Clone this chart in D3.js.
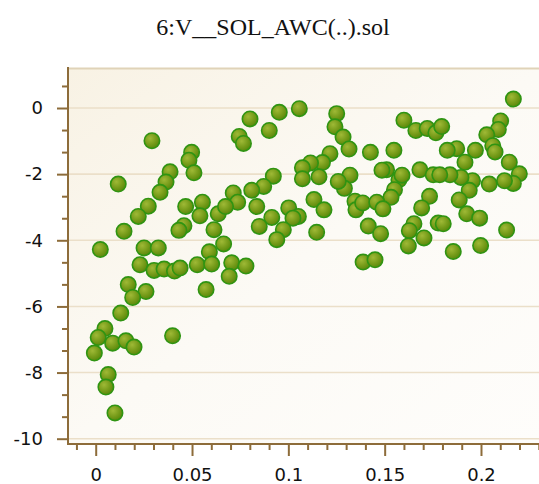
<!DOCTYPE html>
<html><head><meta charset="utf-8">
<script src="https://cdn.jsdelivr.net/npm/d3@7"></script>
<style>body{margin:0;background:#fff}svg{display:block}</style>
</head><body>
<script>
const chartTitle = "6:V__SOL_AWC(..).sol";
const xValues = [0.0292,0.0117,0.0386,0.0365,0.0334,0.0273,0.0221,0.0147,0.0024,0.0251,0.0325,0.0498,0.0484,0.0510,0.0467,0.0554,0.0541,0.0458,0.0432,0.0614,0.0590,0.0230,0.0303,0.0355,0.0409,0.0438,0.0527,0.0169,0.0261,0.0192,0.0130,0.0048,0.0013,0.0088,0.0157,0.0199,-0.0007,0.0065,0.0053,0.0100,0.0399,
0.0801,0.0953,0.1057,0.0745,0.0767,0.0901,0.1251,0.1242,0.1284,0.1315,0.1216,0.1177,0.1115,0.1073,0.1159,0.1073,0.0922,0.0872,0.0810,0.0714,0.0737,0.0636,0.0674,0.0836,0.0914,0.1002,0.1052,0.1024,0.0974,0.0940,0.0849,0.0664,0.0602,0.0706,0.0780,0.0693,0.0573,0.1147,0.1133,0.1185,0.1320,0.1291,0.1259,0.1346,0.1351,0.1388,0.1450,0.1426,0.1548,0.1600,0.1662,0.1721,0.1766,0.1796,0.1510,0.1486,0.1574,0.1590,0.1551,0.1533,0.1683,0.1752,0.1733,0.1692,0.1778,0.1652,0.1628,0.1704,0.1623,0.1386,0.1459,0.1491,0.1415,0.1479,
0.2168,0.2102,0.2090,0.2030,0.2061,0.2073,0.2147,0.2199,0.2168,0.2122,0.2133,0.1971,0.1917,0.1874,0.1825,0.2043,0.1956,0.1939,0.1896,0.1839,0.1786,0.1887,0.1926,0.1993,0.1804,0.1856,0.1998];
const yValues = [-0.99,-2.30,-1.93,-2.24,-2.55,-2.97,-3.28,-3.73,-4.28,-4.23,-4.23,-1.34,-1.58,-1.96,-2.98,-2.85,-3.26,-3.56,-3.70,-3.68,-4.35,-4.74,-4.91,-4.87,-4.93,-4.84,-4.74,-5.34,-5.55,-5.73,-6.20,-6.67,-6.94,-7.11,-7.04,-7.23,-7.41,-8.06,-8.44,-9.22,-6.89,
-0.33,-0.13,-0.02,-0.86,-1.07,-0.68,-0.17,-0.57,-0.88,-1.24,-1.38,-1.65,-1.66,-1.81,-2.08,-2.14,-2.06,-2.37,-2.49,-2.57,-2.85,-3.20,-2.98,-2.98,-3.31,-3.02,-3.28,-3.33,-3.68,-3.98,-3.58,-4.11,-4.72,-4.68,-4.78,-5.09,-5.49,-3.76,-2.77,-3.08,-2.03,-2.43,-2.22,-2.82,-3.08,-4.66,-4.59,-1.34,-1.28,-0.37,-0.68,-0.62,-0.75,-0.56,-1.87,-1.88,-2.17,-2.03,-2.47,-2.70,-1.87,-2.02,-2.67,-3.02,-3.48,-3.50,-3.71,-3.93,-4.17,-2.87,-2.85,-3.05,-3.57,-3.80,
0.27,-0.39,-0.65,-0.81,-1.14,-1.33,-1.64,-1.99,-2.28,-2.20,-3.69,-1.28,-1.64,-1.23,-1.28,-2.30,-2.20,-2.49,-2.10,-2.02,-2.02,-2.78,-3.20,-3.33,-3.50,-4.34,-4.16];
const xTickValues = [0, 0.05, 0.1, 0.15, 0.2];
const xTickLabels = ["0", "0.05", "0.1", "0.15", "0.2"];
const yTickValues = [0, -2, -4, -6, -8, -10];
const yTickLabels = ["0", "-2", "-4", "-6", "-8", "-10"];

const W = 539, H = 484;
const P = {left: 69, top: 68, right: 542, bottom: 443};
const axisColor = "#8d6c3a";
const labelFont = "DejaVu Sans, sans-serif";

const svg = d3.select("body").append("svg").attr("width", W).attr("height", H);
const x = d3.scaleLinear().domain([-0.01386, 0.23167]).range([P.left, P.right]);
const y = d3.scaleLinear().domain([1.21, -10.13]).range([P.top, P.bottom]);

const defs = svg.append("defs");
const bg = defs.append("linearGradient").attr("id", "bg")
  .attr("x1", "0").attr("y1", "0").attr("x2", "1").attr("y2", "1");
bg.append("stop").attr("offset", "0").attr("stop-color", "#f8f2e4");
bg.append("stop").attr("offset", "0.5").attr("stop-color", "#fcfaf5");
bg.append("stop").attr("offset", "1").attr("stop-color", "#fefdfb");
const dot = defs.append("radialGradient").attr("id", "dot")
  .attr("cx", "0.38").attr("cy", "0.35").attr("r", "0.65");
dot.append("stop").attr("offset", "0").attr("stop-color", "#9fb936");
dot.append("stop").attr("offset", "0.6").attr("stop-color", "#779c1a");
dot.append("stop").attr("offset", "1").attr("stop-color", "#5b8a0c");

// plot background
svg.append("rect").attr("x", P.left).attr("y", P.top)
  .attr("width", P.right - P.left).attr("height", P.bottom - P.top)
  .attr("fill", "url(#bg)");

// top border
svg.append("line").attr("x1", P.left).attr("x2", P.right)
  .attr("y1", P.top + 0.5).attr("y2", P.top + 0.5)
  .attr("stroke", "#e0d3b8").attr("stroke-width", 2);

// horizontal gridlines
svg.append("g").selectAll("line").data(yTickValues).join("line")
  .attr("x1", P.left).attr("x2", P.right)
  .attr("y1", d => y(d)).attr("y2", d => y(d))
  .attr("stroke", "#ebdfc9").attr("stroke-width", 1.6);

// title
svg.append("text").attr("x", 273).attr("y", 34.5)
  .attr("text-anchor", "middle")
  .attr("font-family", "Liberation Serif, Times New Roman, serif")
  .attr("font-size", 24).attr("fill", "#111")
  .text(chartTitle);

// Y axis
const yMinor = d3.range(1, -16, -1).map(k => k * 2 / 3).filter(v => !yTickValues.some(t => Math.abs(t - v) < 1e-6));
const gyMinor = svg.append("g").attr("transform", `translate(${P.left - 1},0)`)
  .call(d3.axisLeft(y).tickValues(yMinor).tickSize(6).tickFormat(""));
const gy = svg.append("g").attr("transform", `translate(${P.left - 1},0)`)
  .call(d3.axisLeft(y).tickValues(yTickValues).tickSize(11).tickPadding(14)
    .tickFormat((d, i) => yTickLabels[i]));
[gyMinor, gy].forEach(g => {
  g.select(".domain").remove();
  g.selectAll(".tick line").attr("stroke", axisColor).attr("stroke-width", 2);
});
gy.selectAll(".tick text").attr("font-family", labelFont).attr("font-size", 18).attr("fill", "#111");
svg.append("line").attr("x1", P.left - 1).attr("x2", P.left - 1)
  .attr("y1", P.top - 1).attr("y2", P.bottom + 2)
  .attr("stroke", axisColor).attr("stroke-width", 2);

// X axis
const xMinor = d3.range(-1, 24).map(k => k / 100).filter(v => !xTickValues.some(t => Math.abs(t - v) < 1e-6));
const gxMinor = svg.append("g").attr("transform", `translate(0,${P.bottom + 1})`)
  .call(d3.axisBottom(x).tickValues(xMinor).tickSize(6).tickFormat(""));
const gx = svg.append("g").attr("transform", `translate(0,${P.bottom + 1})`)
  .call(d3.axisBottom(x).tickValues(xTickValues).tickSize(12).tickPadding(12)
    .tickFormat((d, i) => xTickLabels[i]));
[gxMinor, gx].forEach(g => {
  g.select(".domain").remove();
  g.selectAll(".tick line").attr("stroke", axisColor).attr("stroke-width", 2);
});
gx.selectAll(".tick text").attr("font-family", labelFont).attr("font-size", 18).attr("fill", "#111");
svg.append("line").attr("x1", P.left - 2).attr("x2", P.right)
  .attr("y1", P.bottom + 1).attr("y2", P.bottom + 1)
  .attr("stroke", axisColor).attr("stroke-width", 2);

// points
const points = xValues.map((v, i) => ({x: v, y: yValues[i]}));
svg.append("g").selectAll("circle").data(points).join("circle")
  .attr("cx", d => x(d.x)).attr("cy", d => y(d.y)).attr("r", 7.7)
  .attr("fill", "url(#dot)")
  .attr("stroke", "#2f9412").attr("stroke-width", 1.6);
</script>
</body></html>
